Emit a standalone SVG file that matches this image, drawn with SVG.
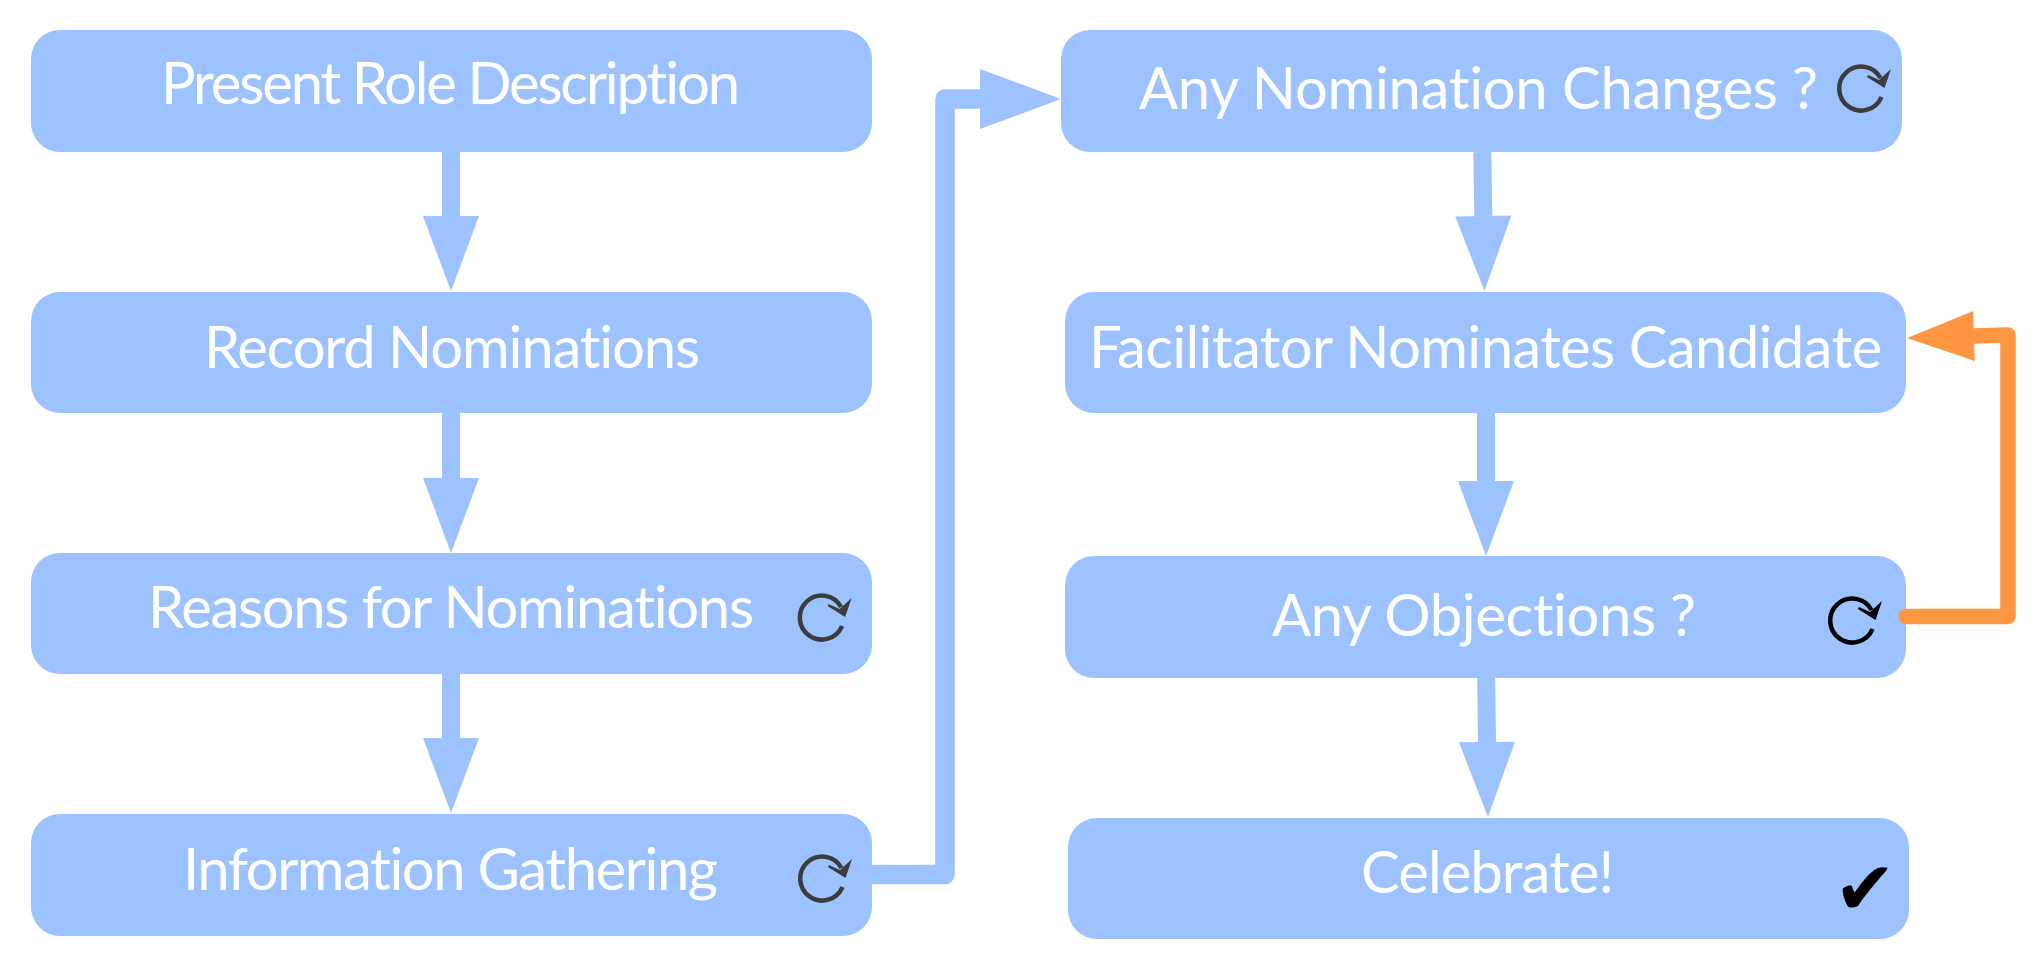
<svg xmlns="http://www.w3.org/2000/svg" width="2041" height="972" viewBox="0 0 2041 972">
<style>
.box{fill:#9cc2ff}
.lbl{font-family:"Lato","Liberation Sans",sans-serif;font-weight:400;font-size:58px;fill:#fff;font-variant-ligatures:none;font-feature-settings:"liga" 0}
.dark{color:#3c3c3c}
.black{color:#000}
.chk{font-family:"DejaVu Sans",sans-serif;font-size:74px;text-anchor:middle;fill:#000}
.c{fill:none;stroke:#9cc2ff;stroke-width:18;stroke-linejoin:round}
.c2{fill:none;stroke:#9cc2ff;stroke-width:19.5;stroke-linejoin:round;marker-end:url(#ah)}
.o{fill:none;stroke:#ff9642;stroke-width:15.5;stroke-linejoin:round;stroke-linecap:round;marker-end:url(#ao)}
</style>
<defs>
<marker id="ad" markerUnits="userSpaceOnUse" markerWidth="76" markerHeight="58" refX="0" refY="28" orient="auto" overflow="visible"><path d="M0 0L75 28L0 56Z" fill="#9cc2ff"/></marker>
<marker id="ah" markerUnits="userSpaceOnUse" markerWidth="82" markerHeight="62" refX="0" refY="30" orient="auto" overflow="visible"><path d="M0 0L81 30L0 60Z" fill="#9cc2ff"/></marker>
<marker id="ao" markerUnits="userSpaceOnUse" markerWidth="68" markerHeight="52" refX="0" refY="25" orient="auto" overflow="visible"><path d="M0 0L67 25L0 50Z" fill="#ff9642"/></marker>
<g id="cycle"><path d="M20.5 9A22 22 0 1 1 19.5 -10" fill="none" stroke="currentColor" stroke-width="4.5"/><path d="M30 -19L23.5 0L6 -11L7 -13L18 -8Z" fill="currentColor"/></g>
</defs>
<rect width="2041" height="972" fill="#fff"/>
<g id="connectors">
<path class="c" marker-end="url(#ad)" d="M451 152V216"/>
<path class="c" marker-end="url(#ad)" d="M451 413V478"/>
<path class="c" marker-end="url(#ad)" d="M451 674V738"/>
<path class="c2" d="M872 874.5H945V99H980"/>
<path class="c" marker-end="url(#ad)" d="M1482.3 152L1483.3 216"/>
<path class="c" marker-end="url(#ad)" d="M1486 413V481"/>
<path class="c" marker-end="url(#ad)" d="M1486.2 678L1487 742"/>
</g>
<g id="node-present"><rect class="box" x="31" y="30" width="841" height="122" rx="29"/><text class="lbl" x="161" y="104" textLength="579">Present Role Description</text></g>
<g id="node-record"><rect class="box" x="31" y="292" width="841" height="121" rx="29"/><text class="lbl" x="204" y="368" textLength="496">Record Nominations</text></g>
<g id="node-reasons"><rect class="box" x="31" y="553" width="841" height="121" rx="29"/><text class="lbl" x="148" y="628" textLength="606">Reasons for Nominations</text><use href="#cycle" class="dark" x="821.6" y="617"/></g>
<g id="node-information"><rect class="box" x="31" y="814" width="841" height="122" rx="29"/><text class="lbl" x="183" y="890" textLength="535">Information Gathering</text><use href="#cycle" class="dark" x="822" y="878"/></g>
<g id="node-changes"><rect class="box" x="1061" y="30" width="841" height="122" rx="29"/><text class="lbl" x="1139" y="109" textLength="679">Any Nomination Changes ?</text><use href="#cycle" class="dark" x="1861" y="88"/></g>
<g id="node-facilitator"><rect class="box" x="1065" y="292" width="841" height="121" rx="29"/><text class="lbl" x="1089" y="368" textLength="793">Facilitator Nominates Candidate</text></g>
<g id="node-objections"><rect class="box" x="1065" y="556" width="841" height="122" rx="29"/><text class="lbl" x="1272" y="636" textLength="424">Any Objections ?</text><use href="#cycle" class="black" x="1852" y="620"/></g>
<g id="node-celebrate"><rect class="box" x="1068" y="818" width="841" height="121" rx="29"/><text class="lbl" x="1361" y="893" textLength="253">Celebrate!</text><text class="chk" x="1865" y="913.5">✔</text></g>
<g id="feedback"><path class="o" d="M1906 616.5H2008V335L1974 336"/></g>
</svg>
